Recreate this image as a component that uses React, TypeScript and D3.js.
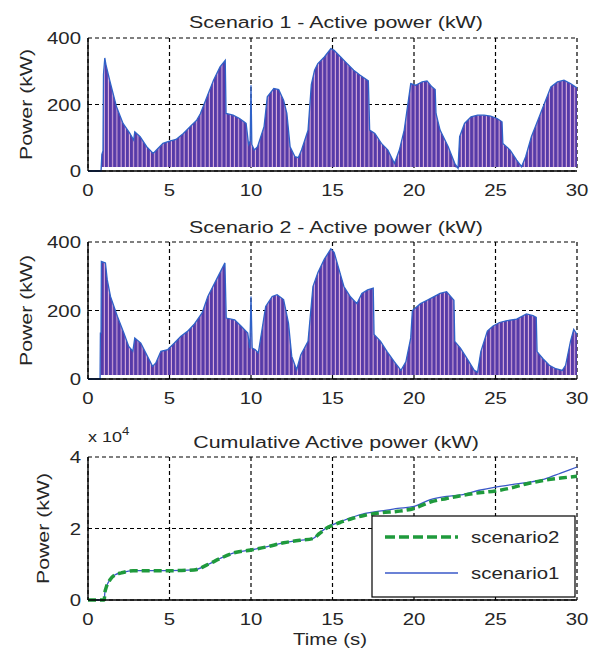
import React, { useEffect, useRef } from 'react';
import * as d3 from 'd3';

// envelope of the switching power signal, [time s, kW]
const S1_POWER: [number, number][] = [
  [0, 0], [0.8, 0], [0.85, 50], [0.92, 60], [0.95, 290], [1.03, 340], [1.1, 320], [1.33, 273],
  [1.75, 193], [2.15, 143], [2.57, 113], [2.8, 93], [2.87, 118], [3.2, 103], [3.6, 73], [4.0, 53],
  [4.2, 63], [4.6, 83], [5.0, 90], [5.4, 95], [5.85, 113], [6.26, 133], [6.67, 153], [6.9, 173],
  [7.3, 223], [7.7, 273], [8.1, 313], [8.42, 333], [8.47, 173], [8.9, 168], [9.3, 158], [9.7, 143],
  [9.85, 80], [9.95, 90], [10.0, 258], [10.05, 80], [10.2, 63], [10.4, 73], [10.8, 133], [11.0, 223],
  [11.4, 248], [11.7, 245], [12.0, 213], [12.2, 173], [12.4, 73], [12.7, 43], [12.9, 40], [13.1, 63],
  [13.5, 123], [13.7, 260], [13.9, 303], [14.1, 323], [14.5, 343], [14.9, 368], [15.1, 363],
  [15.5, 343], [15.9, 323], [16.3, 303], [16.7, 288], [17.2, 271], [17.28, 123], [17.6, 113],
  [18.0, 83], [18.4, 63], [18.6, 43], [18.8, 23], [19.1, 63], [19.4, 123], [19.8, 263], [20.1, 258],
  [20.5, 268], [20.8, 271], [21.1, 253], [21.3, 245], [21.35, 173], [21.6, 123], [22.1, 73],
  [22.5, 23], [22.7, 8], [22.8, 103], [23.1, 143], [23.5, 163], [23.9, 168], [24.3, 168], [24.7, 165],
  [25.1, 158], [25.4, 148], [25.45, 83], [25.9, 63], [26.3, 33], [26.6, 13], [26.85, 43], [27.2, 103],
  [27.6, 153], [28.0, 203], [28.4, 253], [28.8, 268], [29.2, 273], [29.6, 263], [29.9, 253], [30, 250],
];

const S2_POWER: [number, number][] = [
  [0, 0], [0.74, 0], [0.76, 134], [0.8, 134], [0.82, 343], [1.07, 339], [1.18, 290], [1.38, 241],
  [1.8, 183], [2.2, 134], [2.5, 95], [2.75, 81], [2.87, 120], [3.24, 105], [3.65, 66], [3.96, 37],
  [4.16, 47], [4.47, 81], [4.9, 86], [5.3, 105], [5.7, 125], [6.1, 139], [6.5, 159], [7.0, 193],
  [7.35, 241], [7.77, 280], [8.08, 309], [8.4, 339], [8.48, 178], [9.0, 173], [9.4, 154], [9.8, 134],
  [9.93, 90], [10.0, 241], [10.07, 90], [10.25, 86], [10.45, 76], [10.9, 212], [11.3, 241],
  [11.6, 246], [12.0, 232], [12.3, 163], [12.5, 66], [12.8, 27], [13.05, 70], [13.5, 110],
  [13.8, 270], [14.1, 310], [14.5, 350], [14.9, 380], [15.1, 370], [15.4, 320], [15.7, 270],
  [16.1, 240], [16.5, 220], [16.8, 250], [17.15, 260], [17.5, 265], [17.55, 130], [17.95, 110],
  [18.35, 80], [18.8, 50], [19.2, 25], [19.5, 50], [19.8, 120], [19.9, 200], [20.4, 220], [20.8, 230],
  [21.2, 240], [21.6, 250], [22.0, 255], [22.45, 230], [22.5, 110], [22.85, 90], [23.25, 60],
  [23.7, 25], [23.9, 20], [24.1, 80], [24.5, 140], [24.85, 155], [25.25, 165], [25.65, 170],
  [26.3, 175], [26.9, 190], [27.3, 185], [27.5, 180], [27.55, 80], [27.9, 60], [28.3, 40], [28.7, 30],
  [29.1, 25], [29.3, 40], [29.6, 110], [29.8, 145], [30, 130],
];

// low level of the switching signal (kW)
const BASE_KW = 12;

// cumulative energy, x 10^4
const S1_CUMUL: [number, number][] = [
  [0, 0], [1.0, 0], [1.03, 0.19], [1.13, 0.37], [1.34, 0.56], [1.64, 0.7], [2.05, 0.76], [2.77, 0.82],
  [5, 0.82], [6.5, 0.84], [7.3, 0.98], [8.1, 1.16], [8.95, 1.32], [10, 1.4], [11, 1.49], [12, 1.6],
  [13, 1.67], [13.8, 1.72], [14.2, 1.87], [14.6, 2.01], [15, 2.1], [15.6, 2.21], [16.2, 2.31],
  [17, 2.42], [18, 2.49], [19, 2.56], [20, 2.62], [21, 2.81], [22, 2.9], [23, 2.95], [24, 3.07],
  [25, 3.16], [26, 3.23], [27, 3.29], [28, 3.38], [29, 3.55], [30, 3.72],
];

const S2_CUMUL: [number, number][] = [
  [0, 0], [1.0, 0], [1.03, 0.19], [1.13, 0.37], [1.34, 0.56], [1.64, 0.7], [2.05, 0.76], [2.77, 0.82],
  [5, 0.82], [6.5, 0.84], [7.3, 0.98], [8.1, 1.16], [8.95, 1.32], [10, 1.4], [11, 1.49], [12, 1.6],
  [13, 1.67], [13.8, 1.72], [14.2, 1.86], [14.6, 2.0], [15, 2.09], [15.6, 2.19], [16.2, 2.28],
  [17, 2.37], [18, 2.44], [19, 2.48], [20, 2.56], [21, 2.74], [22, 2.84], [23, 2.93], [24, 3.0],
  [25, 3.05], [26, 3.14], [27, 3.26], [28, 3.35], [29, 3.41], [30, 3.46],
];

const X_TICKS = [0, 5, 10, 15, 20, 25, 30];
const POWER_TICKS = [0, 200, 400];
const CUMUL_TICKS = [0, 2, 4];
const TITLES = [
  'Scenario 1 - Active power (kW)',
  'Scenario 2 - Active power (kW)',
  'Cumulative Active power (kW)',
];
const LEGEND = ['scenario2', 'scenario1'];

const FONT = 'Liberation Sans, Arial, sans-serif';
const INK = '#262626';
const W = 602;
const H = 652;

const App = () => {
  const ref = useRef<SVGSVGElement>(null);

  useEffect(() => {
    const svg = d3.select(ref.current);
    svg.selectAll('*').remove();

    const left = 88;
    const right = 577;
    const x = d3.scaleLinear().domain([0, 30]).range([left, right]);

    // text in the original is a bit stretched sideways
    const txt = (g: any, tx: number, ty: number, s: string, size: number, anchor = 'start', rot = 0, sx = 1.2) =>
      g.append('text')
        .attr('transform', `translate(${tx},${ty}) rotate(${rot}) scale(${sx},1)`)
        .attr('text-anchor', anchor)
        .style('font-family', FONT).style('font-size', `${size}px`).attr('fill', INK)
        .text(s);

    const defs = svg.append('defs');
    const pat = defs.append('pattern')
      .attr('id', 'bars')
      .attr('patternUnits', 'userSpaceOnUse')
      .attr('x', left)
      .attr('width', 4.2)
      .attr('height', 20);
    pat.append('rect').attr('width', 4.2).attr('height', 20).attr('fill', '#563aa8');
    pat.append('rect').attr('x', 3.2).attr('width', 1).attr('height', 20).attr('fill', '#e2b4dc');

    const panel = (top: number, bottom: number, yDomain: number[], yTicks: number[], title: string, titleY: number, labelX: number) => {
      const y = d3.scaleLinear().domain(yDomain).range([bottom, top]);
      const g = svg.append('g');

      // grid
      X_TICKS.forEach(t => {
        g.append('line')
          .attr('x1', x(t)).attr('x2', x(t)).attr('y1', top).attr('y2', bottom)
          .attr('stroke', '#000').attr('stroke-width', 1.2).attr('stroke-dasharray', '4,3');
      });
      yTicks.forEach(t => {
        g.append('line')
          .attr('x1', left).attr('x2', right).attr('y1', y(t)).attr('y2', y(t))
          .attr('stroke', '#000').attr('stroke-width', 1.2).attr('stroke-dasharray', '4,3');
      });

      X_TICKS.forEach(t => txt(g, x(t), bottom + 25, String(t), 17, 'middle'));
      yTicks.forEach(t => txt(g, left - 7, y(t) + 6, String(t), 17, 'end'));

      txt(g, 336, titleY, title, 17, 'middle', 0, 1.26);
      txt(g, labelX, (top + bottom) / 2, 'Power (kW)', 17, 'middle', -90, 1.25);

      return { g, y };
    };

    const axesFrame = (g: any, top: number, bottom: number) => {
      g.append('line').attr('x1', left).attr('x2', left).attr('y1', top).attr('y2', bottom)
        .attr('stroke', '#000').attr('stroke-width', 1.4);
      g.append('line').attr('x1', left).attr('x2', right).attr('y1', bottom).attr('y2', bottom)
        .attr('stroke', '#000').attr('stroke-width', 1.4);
    };

    const powerPanel = (data: [number, number][], top: number, bottom: number, title: string, titleY: number) => {
      const { g, y } = panel(top, bottom, [0, 400], POWER_TICKS, title, titleY, 32);
      const area = d3.area<[number, number]>()
        .x(d => x(d[0]))
        .y0(d => y(Math.min(BASE_KW, d[1])))
        .y1(d => y(d[1]));
      g.append('path').attr('d', area(data)).attr('fill', 'url(#bars)');
      const line = d3.line<[number, number]>().x(d => x(d[0])).y(d => y(d[1]));
      g.append('path').attr('d', line(data))
        .attr('fill', 'none').attr('stroke', '#2f62c8').attr('stroke-width', 1.3);
      g.append('path').attr('d', line([[0, 0], [0.85, 0]]))
        .attr('fill', 'none').attr('stroke', '#2f62c8').attr('stroke-width', 1.5);
      axesFrame(g, top, bottom);
    };

    powerPanel(S1_POWER, 38, 171, TITLES[0], 28);
    powerPanel(S2_POWER, 242, 379, TITLES[1], 233);

    // cumulative panel
    const top3 = 457;
    const bottom3 = 600;
    const { g: g3, y: y3 } = panel(top3, bottom3, [0, 4], CUMUL_TICKS, TITLES[2], 448, 49);
    const cline = d3.line<[number, number]>()
      .x(d => x(d[0])).y(d => y3(d[1]))
      .curve(d3.curveMonotoneX);
    g3.append('path').attr('d', cline(S1_CUMUL))
      .attr('fill', 'none').attr('stroke', '#3a58c8').attr('stroke-width', 1.3);
    g3.append('path').attr('d', cline(S2_CUMUL))
      .attr('fill', 'none').attr('stroke', '#1f9a3c').attr('stroke-width', 3.5)
      .attr('stroke-dasharray', '8,4');
    axesFrame(g3, top3, bottom3);

    // exponent label
    const ex = svg.append('text')
      .attr('transform', 'translate(88,442) scale(1.2,1)')
      .style('font-family', FONT).style('font-size', '15px').attr('fill', INK);
    ex.append('tspan').text('x 10');
    ex.append('tspan').attr('dy', -7).style('font-size', '11px').text('4');

    txt(svg, 330, 645, 'Time (s)', 17, 'middle');

    // legend
    const lg = svg.append('g');
    lg.append('rect')
      .attr('x', 372).attr('y', 516).attr('width', 203).attr('height', 81)
      .attr('fill', '#fff').attr('stroke', '#000').attr('stroke-width', 1.2);
    lg.append('line').attr('x1', 385).attr('x2', 458).attr('y1', 537).attr('y2', 537)
      .attr('stroke', '#1f9a3c').attr('stroke-width', 3.5).attr('stroke-dasharray', '10,4');
    lg.append('line').attr('x1', 385).attr('x2', 458).attr('y1', 573).attr('y2', 573)
      .attr('stroke', '#3a58c8').attr('stroke-width', 1.3);
    LEGEND.forEach((name, i) => txt(lg, 471, 543 + i * 36, name, 17));
  }, []);

  return <svg ref={ref} width={W} height={H} style={{ display: 'block', position: 'absolute', left: 0, top: 0 }} />;
};

export default App;
